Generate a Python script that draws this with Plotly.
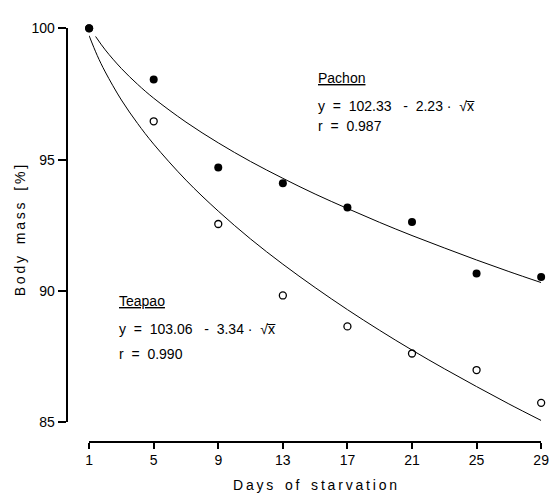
import plotly.graph_objects as go

W, H = 556, 500

days = [1, 5, 9, 13, 17, 21, 25, 29]
pachon = [100.0, 98.05, 94.70, 94.10, 93.18, 92.63, 90.67, 90.53]
teapao = [100.0, 96.46, 92.55, 89.83, 88.65, 87.62, 86.99, 85.74]

# Fitted curves
fit_x_pachon = [1.4, 2, 3, 4, 5, 7, 9, 11, 13, 15, 17, 19, 21, 23, 25, 27, 29]
fit_y_pachon = [99.69, 99.18, 98.47, 97.87, 97.34, 96.43, 95.64, 94.93, 94.29,
                93.69, 93.14, 92.61, 92.11, 91.64, 91.18, 90.74, 90.32]
fit_x_teapao = [1, 1.5, 2, 3, 4, 5, 7, 9, 11, 13, 15, 17, 19, 21, 23, 25, 27, 29]
fit_y_teapao = [99.72, 98.97, 98.34, 97.27, 96.38, 95.59, 94.22, 93.04, 91.98,
                91.02, 90.13, 89.29, 88.50, 87.75, 87.04, 86.36, 85.70, 85.07]

x_ticks = [1, 5, 9, 13, 17, 21, 25, 29]
y_ticks = [85, 90, 95, 100]

FONT = "Liberation Sans"
TS = "\u2009"   # thin space used as letter spacing
NB = "\u00a0"   # non-breaking space (not collapsed)


def spaced(text, gap=3):
    words = text.split(" ")
    return (NB * gap).join(TS.join(list(w)) for w in words)


def nb(text):
    return text.replace(" ", NB)


def px(x):
    return x / W


def py(y):
    return 1 - y / H


fig = go.Figure()
fig.add_trace(go.Scatter(x=fit_x_pachon, y=fit_y_pachon, mode="lines",
                         line=dict(color="black", width=1, shape="spline"),
                         cliponaxis=False, hoverinfo="skip"))
fig.add_trace(go.Scatter(x=fit_x_teapao, y=fit_y_teapao, mode="lines",
                         line=dict(color="black", width=1, shape="spline"),
                         cliponaxis=False, hoverinfo="skip"))
fig.add_trace(go.Scatter(x=days, y=teapao, mode="markers",
                         marker=dict(symbol="circle-open", size=7, color="black",
                                     line=dict(width=1.3, color="black")),
                         cliponaxis=False))
fig.add_trace(go.Scatter(x=days, y=pachon, mode="markers",
                         marker=dict(symbol="circle", size=8, color="black"),
                         cliponaxis=False))

fig.update_layout(
    width=W, height=H, autosize=False,
    margin=dict(l=0, r=0, t=0, b=0),
    paper_bgcolor="white", plot_bgcolor="white",
    showlegend=False,
    font=dict(family=FONT, size=14, color="black"),
    xaxis=dict(domain=[px(87), px(549)], range=[1, 29], anchor="free",
               position=py(448), showline=True, linecolor="black", linewidth=2,
               ticks="outside", ticklen=6, tickwidth=2, tickcolor="black",
               tickvals=x_ticks, ticktext=[str(v) for v in x_ticks],
               ticklabeloverflow="allow",
               showgrid=False, zeroline=False, tickfont=dict(size=14)),
    yaxis=dict(domain=[py(428), py(21)], range=[85, 100], anchor="free",
               position=px(64), showline=True, linecolor="black", linewidth=2,
               ticks="outside", ticklen=8, tickwidth=2, tickcolor="black",
               tickvals=y_ticks, ticktext=[str(v) for v in y_ticks],
               showgrid=False, zeroline=False, tickfont=dict(size=14)),
)


def note(text, x, y, anchor="left", size=14, angle=0):
    fig.add_annotation(text=text, x=px(x), y=py(y), xref="paper", yref="paper",
                       xanchor=anchor, yanchor="middle", showarrow=False,
                       textangle=angle, font=dict(family=FONT, size=size, color="black"))


note("<u>Pachon</u>", 319, 72)
note(nb("y  =  102.33   -  2.23 ·  √x̅"), 319, 101)
note(nb("r  =  0.987"), 319, 122)
note("<u>Teapao</u>", 116, 303)
note(nb("y  =  103.06   -  3.34 ·  √x̅"), 116, 332)
note(nb("r  =  0.990"), 116, 357)

note(spaced("Days of starvation"), 318, 493, anchor="center")
note(spaced("Body mass [%]"), 16, 230, anchor="center", angle=-90)

fig.write_html("out.html",
               config={"displayModeBar": False},
               post_script="document.body.style.margin='0';document.body.style.overflow='hidden';")
